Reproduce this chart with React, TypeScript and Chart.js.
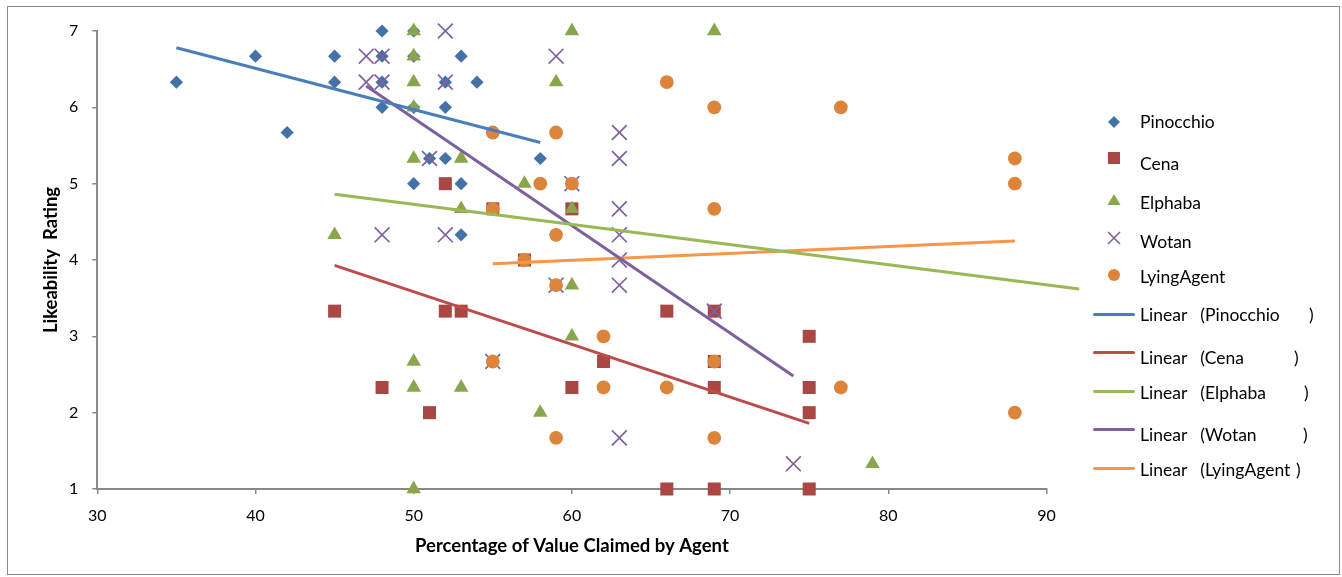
import { useEffect, useRef } from "react";
import Chart from "chart.js/auto";

// ---------- data ----------
const seriesNames = ["Pinocchio", "Cena", "Elphaba", "Wotan", "LyingAgent"];

const pinocchioX = [48, 50, 40, 45, 48, 50, 53, 35, 45, 48, 52, 54, 48, 50, 52, 42, 51, 52, 58, 50, 52, 53, 53];
const pinocchioY = [7, 7, 6.67, 6.67, 6.67, 6.67, 6.67, 6.33, 6.33, 6.33, 6.33, 6.33, 6, 6, 6, 5.67, 5.33, 5.33, 5.33, 5, 5, 5, 4.33];

const cenaX = [52, 55, 57, 60, 45, 52, 53, 66, 69, 75, 62, 69, 48, 60, 69, 75, 51, 75, 66, 69, 75];
const cenaY = [5, 4.67, 4, 4.67, 3.33, 3.33, 3.33, 3.33, 3.33, 3, 2.67, 2.67, 2.33, 2.33, 2.33, 2.33, 2, 2, 1, 1, 1];

const elphabaX = [50, 60, 69, 50, 50, 59, 50, 50, 53, 57, 53, 60, 45, 60, 60, 50, 50, 53, 58, 50, 79];
const elphabaY = [7, 7, 7, 6.67, 6.33, 6.33, 6, 5.33, 5.33, 5, 4.67, 4.67, 4.33, 3.67, 3, 2.67, 2.33, 2.33, 2, 1, 1.33];

const wotanX = [52, 47, 48, 59, 47, 48, 52, 51, 63, 63, 60, 63, 48, 52, 63, 63, 59, 63, 69, 55, 63, 74];
const wotanY = [7, 6.67, 6.67, 6.67, 6.33, 6.33, 6.33, 5.33, 5.67, 5.33, 5, 4.67, 4.33, 4.33, 4.33, 4, 3.67, 3.67, 3.33, 2.67, 1.67, 1.33];

const lyingX = [66, 69, 77, 55, 59, 88, 58, 60, 88, 55, 69, 59, 57, 59, 62, 55, 69, 62, 66, 77, 88, 59, 69];
const lyingY = [6.33, 6, 6, 5.67, 5.67, 5.33, 5, 5, 5, 4.67, 4.67, 4.33, 4, 3.67, 3, 2.67, 2.67, 2.33, 2.33, 2.33, 2, 1.67, 1.67];

// trend line endpoints
const trendPinocchioX = [35, 58];
const trendPinocchioY = [6.78, 5.54];
const trendCenaX = [45, 75];
const trendCenaY = [3.93, 1.86];
const trendElphabaX = [45, 92.07];
const trendElphabaY = [4.86, 3.62];
const trendWotanX = [47, 74];
const trendWotanY = [6.28, 2.48];
const trendLyingX = [55, 88];
const trendLyingY = [3.95, 4.25];

const xTicks = [30, 40, 50, 60, 70, 80, 90];
const yTicks = [1, 2, 3, 4, 5, 6, 7];

const xTitle = "Percentage of Value Claimed by Agent";
const yTitle = "Likeability  Rating";

// ---------- styles ----------
const FONT = "Lato, 'Noto Sans', sans-serif";
const markerColors = ["#4472A8", "#AA4643", "#8AA64C", "#7E62A0", "#DC843A"];
const trendColors = ["#4A7EBB", "#BE4B48", "#98B954", "#7D60A0", "#F79646"];
const pointStyles = ["rectRot", "rect", "triangle", "crossRot", "circle"] as const;
const pointRadii = [6.6, 9.2, 8.4, 10.5, 6.9];

const pts = (xs: number[], ys: number[]) => xs.map((x, i) => ({ x, y: ys[i] }));

const scatterData = [
  pts(pinocchioX, pinocchioY),
  pts(cenaX, cenaY),
  pts(elphabaX, elphabaY),
  pts(wotanX, wotanY),
  pts(lyingX, lyingY),
];
const trendData = [
  pts(trendPinocchioX, trendPinocchioY),
  pts(trendCenaX, trendCenaY),
  pts(trendElphabaX, trendElphabaY),
  pts(trendWotanX, trendWotanY),
  pts(trendLyingX, trendLyingY),
];

// legend layout (pixels)
const legendMarkerX = 1114;
const legendTextX = 1140;
const legendMarkerY = [121.7, 158, 200, 238, 275];
const legendTextY = [121.7, 164, 202.7, 241.7, 276.7];
const legendLineY = [314, 352.7, 391.7, 429, 468];
const legendLineTextY = [315, 358, 392.7, 435, 470];
const legendParenX = [1309, 1294, 1304, 1303, 1296];

function Marker({ i }: { i: number }) {
  const c = markerColors[i];
  const s = 16;
  const h = s / 2;
  let shape: any = null;
  if (i === 0) shape = <polygon points={`${h},${h - 6} ${h + 6},${h} ${h},${h + 6} ${h - 6},${h}`} fill={c} />;
  if (i === 1) shape = <rect x={h - 6} y={h - 6} width={12} height={12} fill={c} />;
  if (i === 2) shape = <polygon points={`${h},${h - 6} ${h + 6.5},${h + 5} ${h - 6.5},${h + 5}`} fill={c} />;
  if (i === 3)
    shape = (
      <g stroke={c} strokeWidth={1.6}>
        <line x1={h - 6} y1={h - 6} x2={h + 6} y2={h + 6} />
        <line x1={h + 6} y1={h - 6} x2={h - 6} y2={h + 6} />
      </g>
    );
  if (i === 4) shape = <circle cx={h} cy={h} r={6} fill={c} />;
  return (
    <svg width={s} height={s} style={{ position: "absolute", left: legendMarkerX - h, top: legendMarkerY[i] - h }}>
      {shape}
    </svg>
  );
}

export default function App() {
  const ref = useRef<HTMLCanvasElement>(null);

  useEffect(() => {
    const datasets: any[] = [];
    trendData.forEach((d, i) => {
      datasets.push({
        label: "Linear (" + seriesNames[i] + ")",
        data: d,
        showLine: true,
        pointRadius: 0,
        borderColor: trendColors[i],
        backgroundColor: trendColors[i],
        borderWidth: 3,
        clip: false,
        order: 0,
      });
    });
    scatterData.forEach((d, i) => {
      datasets.push({
        label: seriesNames[i],
        data: d,
        showLine: false,
        pointStyle: pointStyles[i],
        pointRadius: pointRadii[i],
        backgroundColor: markerColors[i],
        borderColor: markerColors[i],
        borderWidth: i === 3 ? 1.7 : 0,
        clip: false,
        order: 5 - i,
      });
    });

    const chart = new Chart(ref.current!, {
      type: "scatter",
      data: { datasets },
      options: {
        animation: false,
        responsive: false,
        events: [],
        layout: { padding: { left: 0, top: 31, right: 295.5, bottom: 0 } },
        plugins: { legend: { display: false }, tooltip: { enabled: false } },
        scales: {
          x: {
            type: "linear",
            min: xTicks[0],
            max: xTicks[xTicks.length - 1],
            afterBuildTicks: (s: any) => {
              s.ticks = xTicks.map((v) => ({ value: v }));
            },
            afterFit: (s: any) => {
              s.height = 88;
            },
            ticks: { color: "#000", font: { family: FONT, size: 16 }, padding: 12 },
            grid: { display: true, drawOnChartArea: false, drawTicks: true, tickLength: 5, color: "#888888", lineWidth: 1.5 },
            border: { display: true, color: "#888888", width: 2 },
            title: {
              display: true,
              text: xTitle,
              color: "#000",
              font: { family: FONT, size: 18.5, weight: "bold" },
              padding: { top: 0, bottom: 20 },
            },
          },
          y: {
            type: "linear",
            min: yTicks[0],
            max: yTicks[yTicks.length - 1],
            afterBuildTicks: (s: any) => {
              s.ticks = yTicks.map((v) => ({ value: v }));
            },
            afterFit: (s: any) => {
              s.width = 97.3;
            },
            ticks: { color: "#000", font: { family: FONT, size: 16 }, padding: 14 },
            grid: { display: true, drawOnChartArea: false, drawTicks: true, tickLength: 5, color: "#888888", lineWidth: 1.5 },
            border: { display: true, color: "#888888", width: 2 },
            title: {
              display: true,
              text: yTitle,
              color: "#000",
              font: { family: FONT, size: 18.5, weight: "bold" },
              padding: { top: 40, bottom: 0 },
            },
          },
        },
      },
    });
    return () => chart.destroy();
  }, []);

  const textStyle = (y: number): any => ({
    position: "absolute",
    left: legendTextX,
    top: y - 11,
    height: 22,
    lineHeight: "22px",
    fontFamily: FONT,
    fontSize: 17.5,
    color: "#000",
    whiteSpace: "pre",
  });

  return (
    <div style={{ position: "fixed", left: 0, top: 0, width: 1342, height: 577, background: "#fff", overflow: "hidden" }}>
      <div
        style={{
          position: "absolute",
          left: 7,
          top: 6,
          width: 1331,
          height: 567,
          border: "1px solid #8a8a8a",
          boxSizing: "content-box",
        }}
      />
      <canvas ref={ref} width={1342} height={577} style={{ position: "absolute", left: 0, top: 0, width: 1342, height: 577 }} />
      {seriesNames.map((n, i) => (
        <div key={"m" + i}>
          <Marker i={i} />
          <div style={textStyle(legendTextY[i])}>{n}</div>
        </div>
      ))}
      {seriesNames.map((n, i) => (
        <div key={"t" + i}>
          <div
            style={{
              position: "absolute",
              left: 1093,
              top: legendLineY[i] - 1.5,
              width: 42,
              height: 3,
              borderRadius: 1.5,
              background: trendColors[i],
            }}
          />
          <div style={textStyle(legendLineTextY[i])}>{"Linear   (" + n}</div>
          <div style={{ ...textStyle(legendLineTextY[i]), left: legendParenX[i] }}>)</div>
        </div>
      ))}
    </div>
  );
}
